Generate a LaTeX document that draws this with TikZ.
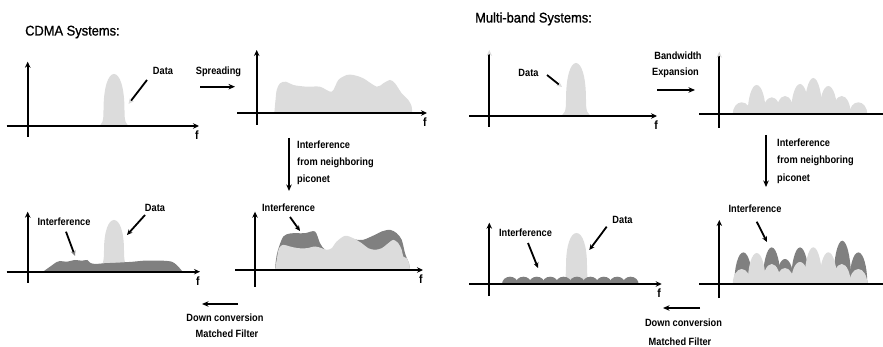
\documentclass[tikz,border=0pt]{standalone}
\usepackage{fontspec}
\usetikzlibrary{arrows.meta}
\newfontfamily\lblfont{Liberation Sans}[FakeStretch=0.88]
\newfontfamily\ttlfont{Liberation Sans}[FakeStretch=0.92,FakeBold=1]
\definecolor{lightfill}{HTML}{DCDCDC}
\definecolor{darkfill}{HTML}{808080}

% bullet-shaped spectral peak: colour, centre x, base y, top y, half base width, half body width
\newcommand\specpeak[6]{%
  \pgfmathsetmacro\pkH{#3-#4}%
  \fill[#1] ({#2-#5},#3)
    .. controls ({#2-#6-1},#3) and ({#2-#6},{#3-0.1*\pkH}) .. ({#2-#6},{#3-0.3*\pkH})
    .. controls ({#2-#6},{#3-0.75*\pkH}) and ({#2-0.55*#6},#4) .. (#2,#4)
    .. controls ({#2+0.55*#6},#4) and ({#2+#6},{#3-0.75*\pkH}) .. ({#2+#6},{#3-0.3*\pkH})
    .. controls ({#2+#6},{#3-0.1*\pkH}) and ({#2+#6+1},#3) .. ({#2+#5},#3) -- cycle;}

\begin{document}
\begin{tikzpicture}[x=1pt,y=-1pt,
  axis/.style={line width=2.2pt,-{Stealth[length=6pt,width=5.5pt]}},
  axisfaint/.style={line width=2.2pt,-{Stealth[length=6pt,width=5.5pt,color=lightfill]}},
  plainaxis/.style={line width=2.2pt},
  flow/.style={line width=1.8pt,-{Stealth[length=6.5pt,width=5.5pt]}},
  pointer/.style={line width=1.8pt,-{Stealth[length=5.5pt,width=5pt]}},
  pointerlight/.style={line width=1.8pt,-{Stealth[length=5.5pt,width=5pt,color=lightfill]}},
  pointerdark/.style={line width=1.8pt,-{Stealth[length=5.5pt,width=5pt,color=darkfill]}},
  lbl/.style={font=\lblfont\bfseries\fontsize{10.5}{12}\selectfont,inner sep=0pt},
  flab/.style={font=\lblfont\bfseries\fontsize{12}{14}\selectfont,inner sep=0pt},
  ttl/.style={font=\ttlfont\fontsize{14}{16}\selectfont,inner sep=0pt,anchor=base west}]
\useasboundingbox (0,0) rectangle (883,347);

% ---------------- titles ----------------
\node[ttl] (tcdma) at (25,35.5) {CDMA Systems:};
\node[ttl] (tmb) at (475,22.5) {Multi-band Systems:};

% ================= CDMA =================
% panel 1: narrowband data
\specpeak{lightfill}{114}{126}{74}{17}{10.5}
\coordinate (a1y0) at (27.7,136.7); \coordinate (a1y1) at (27.7,61.7);
\coordinate (a1x0) at (6.7,126);    \coordinate (a1x1) at (199,126);
\draw[axis] (a1y0) -- (a1y1);
\draw[axis] (a1x0) -- (a1x1);
\node[flab] (f1) at (197,135) {f};
\node[lbl] (d1) at (163,71) {Data};
\coordinate (d1s) at (147,80); \coordinate (d1e) at (128.5,104);
\draw[pointerlight] (d1s) -- (d1e);

% spreading
\node[lbl] (spr) at (218.5,71.5) {Spreading};
\coordinate (s0) at (200,86.7); \coordinate (s1) at (235,86.7);
\draw[flow] (s0) -- (s1);

% panel 2: spread spectrum
\fill[lightfill] plot[smooth,tension=0.5] coordinates {(274.3,113) (275.5,100) (276.7,90) (280,83.3) (286,81.7) (293.3,85) (306.7,86.7) (320,86.7) (331.7,91.7) (338.3,80) (346.7,75) (353.3,75) (363.3,78.3) (376.7,86.7) (383.3,83.3) (390,80) (395,83.3) (401.7,93.3) (408.3,100) (411.5,106) (412.3,113)} -- cycle;
\coordinate (a2y0) at (256.7,125); \coordinate (a2y1) at (256.7,50);
\coordinate (a2x0) at (237,113);   \coordinate (a2x1) at (427,113);
\draw[axis] (a2y0) -- (a2y1);
\draw[axis] (a2x0) -- (a2x1);
\node[flab] (f2) at (425,122) {f};

% interference from neighbouring piconet
\coordinate (v0) at (289,138); \coordinate (v1) at (289,191);
\draw[flow] (v0) -- (v1);
\node[lbl,anchor=west] (v1a) at (297,145) {Interference};
\node[lbl,anchor=west] (v1b) at (297,163) {from neighboring};
\node[lbl,anchor=west] (v1c) at (297,180) {piconet};

% panel 4: spread signal with interference
\fill[darkfill] plot[smooth,tension=0.5] coordinates {(275,270) (276,259.5) (278,249.8) (283.3,236.5) (290,233.5) (296.7,233.2) (305,233.2) (315,231.5) (320,243.2) (325,249.8) (331.7,251.5) (336.7,243.2) (345,237.5) (355,239.5) (363.3,239.8) (375,234.8) (381.7,231.5) (390,229.8) (396.7,233.2) (401.7,239.8) (405,253.2) (407,258.5) (409,263.5) (410,270)} -- cycle;
\fill[lightfill] plot[smooth,tension=0.5] coordinates {(275,270) (276.7,259.8) (279,248.2) (283.3,244.8) (290,246.5) (298.3,248.2) (306.7,248.2) (315,246.5) (321.7,248.2) (326.7,249.8) (331.7,248.2) (336.7,241.5) (345,235.8) (353.3,238.2) (361.7,243.2) (368.3,248.2) (375,249.8) (381.7,248.2) (388.3,243.2) (393.3,239.8) (398.3,243.2) (401.7,249.8) (403.3,256.5) (406.7,258.2) (409,263.2) (410,270)} -- cycle;
\coordinate (a4y0) at (255,286.7); \coordinate (a4y1) at (255,211.7);
\coordinate (a4x0) at (235,270);   \coordinate (a4x1) at (423,270);
\draw[axis] (a4y0) -- (a4y1);
\draw[axis] (a4x0) -- (a4x1);
\node[flab] (f4) at (421,279) {f};
\node[lbl] (i4) at (288.5,207.5) {Interference};
\coordinate (i4s) at (290,217); \coordinate (i4e) at (300,231);
\draw[pointer] (i4s) -- (i4e);

% down conversion
\coordinate (b0) at (238,304); \coordinate (b1) at (202,304);
\draw[flow] (b0) -- (b1);
\node[lbl] (dc1) at (225,318) {Down conversion};
\node[lbl] (mf1) at (227,334) {Matched Filter};

% panel 3: despread data over interference
\specpeak{lightfill}{114}{264}{220}{12}{10}
\fill[darkfill] plot[smooth,tension=0.5] coordinates {(43,271.7) (50,266.7) (56.7,262) (60,261) (66.7,261.7) (75,260) (81.7,260.7) (87.3,260) (90,262.7) (95,264) (103.3,263.3) (116.7,262.7) (133.3,261.7) (143.3,260.7) (153.3,260.7) (163.3,260.7) (171.7,261.7) (176.7,265) (182.7,271.7)} -- cycle;
\coordinate (a3y0) at (27.7,283); \coordinate (a3y1) at (27.7,211.7);
\coordinate (a3x0) at (6.7,271.7); \coordinate (a3x1) at (200,271.7);
\draw[axis] (a3y0) -- (a3y1);
\draw[axis] (a3x0) -- (a3x1);
\node[flab] (f3) at (198,281) {f};
\node[lbl] (d3) at (155,207.5) {Data};
\coordinate (d3s) at (145,215); \coordinate (d3e) at (127,235);
\draw[pointer] (d3s) -- (d3e);
\node[lbl] (i3) at (64,221.5) {Interference};
\coordinate (i3s) at (66,231.7); \coordinate (i3e) at (75,256);
\draw[pointerdark] (i3s) -- (i3e);

% ================= Multi-band =================
% panel 5: narrowband data
\specpeak{lightfill}{576}{116}{63}{18}{10}
\coordinate (a5y0) at (489.3,126.7); \coordinate (a5y1) at (489.3,50);
\coordinate (a5x0) at (469,116);     \coordinate (a5x1) at (657,116);
\draw[axisfaint] (a5y0) -- (a5y1);
\draw[axis] (a5x0) -- (a5x1);
\node[flab] (f5) at (656,125) {f};
\node[lbl] (d5) at (528.5,72.5) {Data};
\coordinate (d5s) at (547,75); \coordinate (d5e) at (562,87);
\draw[pointerlight] (d5s) -- (d5e);

% bandwidth expansion
\node[lbl] (bw) at (678,56) {Bandwidth};
\node[lbl] (ex) at (675.5,73) {Expansion};
\coordinate (e0) at (657,90); \coordinate (e1) at (695,90);
\draw[flow] (e0) -- (e1);

% panel 6: multi-band spectrum
\begin{scope}
  \clip (700,0) rectangle (883,114);
  \foreach \cx/\h in {741.7/11.7,756.7/29,771.7/16.7,785/18,800/30,813.3/36,828.3/28,841.7/18,858.3/11.7}
    \fill[lightfill] (\cx,114) ellipse [x radius=9,y radius=\h];
\end{scope}
\coordinate (a6y0) at (719.3,128); \coordinate (a6y1) at (719.3,51.7);
\coordinate (a6x0) at (699,114);   \coordinate (a6x1) at (883,114);
\draw[axisfaint] (a6y0) -- (a6y1);
\draw[plainaxis] (a6x0) -- (a6x1);

% interference from neighbouring piconet
\coordinate (w0) at (766,135); \coordinate (w1) at (766,187);
\draw[flow] (w0) -- (w1);
\node[lbl,anchor=west] (v2a) at (777,142.5) {Interference};
\node[lbl,anchor=west] (v2b) at (777,161) {from neighboring};
\node[lbl,anchor=west] (v2c) at (777,179) {piconet};

% panel 8: multi-band spectrum with interference
\begin{scope}
  \clip (700,150) rectangle (883,284);
  \foreach \cx/\h in {743.3/31.6,771.7/36.6,785/25,800/36.6,842.3/43.3,858.3/31.6}
    \fill[darkfill] (\cx,284) ellipse [x radius=9,y radius=\h];
  \foreach \cx/\h in {741.7/15,756.7/31,771.7/20,785/16,800/22,813.3/36.7,828.3/31.7,841.7/20,858.3/15}
    \fill[lightfill] (\cx,284) ellipse [x radius=9,y radius=\h];
\end{scope}
\coordinate (a8y0) at (719.3,298); \coordinate (a8y1) at (719.3,220);
\coordinate (a8x0) at (699,284);   \coordinate (a8x1) at (883,284);
\draw[axis] (a8y0) -- (a8y1);
\draw[plainaxis] (a8x0) -- (a8x1);
\node[lbl] (i8) at (755,208.5) {Interference};
\coordinate (i8s) at (756.7,221.7); \coordinate (i8e) at (767,242);
\draw[pointer] (i8s) -- (i8e);

% down conversion
\coordinate (c0) at (700,308); \coordinate (c1) at (663,308);
\draw[flow] (c0) -- (c1);
\node[lbl] (dc2) at (683.5,323) {Down conversion};
\node[lbl] (mf2) at (680,341.5) {Matched Filter};

% panel 7: despread data over multi-band interference
\specpeak{lightfill}{576.5}{280}{233}{11}{10.5}
\begin{scope}
  \clip (470,200) rectangle (660,284);
  \foreach \i in {0,...,9}
    \fill[darkfill] ({510+13.4*\i},284) ellipse [x radius=8,y radius=7.3];
\end{scope}
\coordinate (a7y0) at (489.3,296); \coordinate (a7y1) at (489.3,222.7);
\coordinate (a7x0) at (469,284);   \coordinate (a7x1) at (661.7,284);
\draw[axis] (a7y0) -- (a7y1);
\draw[axis] (a7x0) -- (a7x1);
\node[flab] (f7) at (659,293) {f};
\node[lbl] (d7) at (622.5,220) {Data};
\coordinate (d7s) at (606.7,226.7); \coordinate (d7e) at (589.3,250);
\draw[pointer] (d7s) -- (d7e);
\node[lbl] (i7) at (525.5,233) {Interference};
\coordinate (i7s) at (528,243); \coordinate (i7e) at (538,268);
\draw[pointer] (i7s) -- (i7e);
\end{tikzpicture}
\end{document}
